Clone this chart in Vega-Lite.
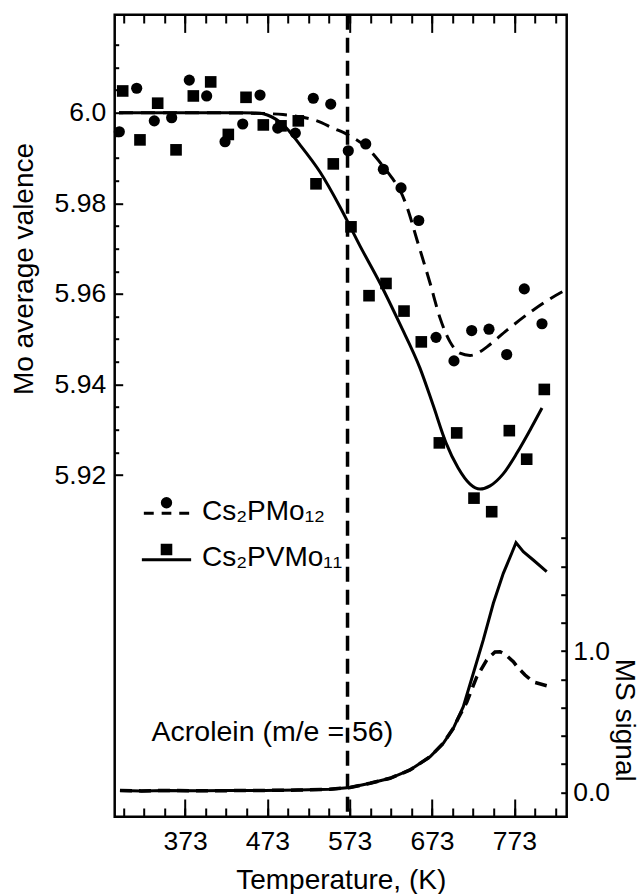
{
  "$schema": "https://vega.github.io/schema/vega-lite/v6.json",
  "autosize": "none",
  "width": 452,
  "height": 802,
  "padding": {"left": 114.7, "top": 14.7, "right": 74.3, "bottom": 77.3},
  "background": "white",
  "config": {
    "font": "Liberation Sans",
    "view": {"stroke": "black", "strokeWidth": 2.5},
    "axis": {"domain": false, "grid": false, "ticks": true, "tickColor": "black", "tickWidth": 2, "tickOpacity": 1, "labelColor": "black", "titleColor": "black", "labelFont": "Liberation Sans", "titleFont": "Liberation Sans", "labelFontSize": 26.5, "titleFontSize": 28, "titleFontWeight": "normal"}
  },
  "datasets": {
    "scatter": [
      {"T": 293.2, "v": 5.9958, "s": "Cs₂PMo₁₂"}, {"T": 314.3, "v": 6.0054, "s": "Cs₂PMo₁₂"}, {"T": 335.7, "v": 5.9982, "s": "Cs₂PMo₁₂"},
      {"T": 356.8, "v": 5.9989, "s": "Cs₂PMo₁₂"}, {"T": 378.2, "v": 6.0072, "s": "Cs₂PMo₁₂"}, {"T": 399.3, "v": 6.0037, "s": "Cs₂PMo₁₂"},
      {"T": 421.6, "v": 5.9936, "s": "Cs₂PMo₁₂"}, {"T": 443.1, "v": 5.9975, "s": "Cs₂PMo₁₂"}, {"T": 464.1, "v": 6.0039, "s": "Cs₂PMo₁₂"},
      {"T": 485.6, "v": 5.9966, "s": "Cs₂PMo₁₂"}, {"T": 507.0, "v": 5.9955, "s": "Cs₂PMo₁₂"}, {"T": 528.8, "v": 6.0032, "s": "Cs₂PMo₁₂"},
      {"T": 550.0, "v": 6.0019, "s": "Cs₂PMo₁₂"}, {"T": 571.3, "v": 5.9916, "s": "Cs₂PMo₁₂"}, {"T": 592.5, "v": 5.9931, "s": "Cs₂PMo₁₂"},
      {"T": 613.9, "v": 5.9875, "s": "Cs₂PMo₁₂"}, {"T": 635.4, "v": 5.9834, "s": "Cs₂PMo₁₂"}, {"T": 656.9, "v": 5.9762, "s": "Cs₂PMo₁₂"},
      {"T": 677.9, "v": 5.9504, "s": "Cs₂PMo₁₂"}, {"T": 699.7, "v": 5.9452, "s": "Cs₂PMo₁₂"}, {"T": 721.2, "v": 5.9519, "s": "Cs₂PMo₁₂"},
      {"T": 742.2, "v": 5.9522, "s": "Cs₂PMo₁₂"}, {"T": 763.7, "v": 5.9466, "s": "Cs₂PMo₁₂"}, {"T": 785.1, "v": 5.9611, "s": "Cs₂PMo₁₂"},
      {"T": 806.6, "v": 5.9534, "s": "Cs₂PMo₁₂"},
      {"T": 297.3, "v": 6.0048, "s": "Cs₂PVMo₁₁"}, {"T": 318.3, "v": 5.9940, "s": "Cs₂PVMo₁₁"}, {"T": 339.8, "v": 6.0021, "s": "Cs₂PVMo₁₁"},
      {"T": 362.1, "v": 5.9918, "s": "Cs₂PVMo₁₁"}, {"T": 383.1, "v": 6.0037, "s": "Cs₂PVMo₁₁"}, {"T": 404.2, "v": 6.0068, "s": "Cs₂PVMo₁₁"},
      {"T": 425.6, "v": 5.9952, "s": "Cs₂PVMo₁₁"}, {"T": 447.1, "v": 6.0034, "s": "Cs₂PVMo₁₁"}, {"T": 468.1, "v": 5.9973, "s": "Cs₂PVMo₁₁"},
      {"T": 489.6, "v": 5.9971, "s": "Cs₂PVMo₁₁"}, {"T": 510.6, "v": 5.9982, "s": "Cs₂PVMo₁₁"}, {"T": 532.1, "v": 5.9843, "s": "Cs₂PVMo₁₁"},
      {"T": 553.1, "v": 5.9887, "s": "Cs₂PVMo₁₁"}, {"T": 574.6, "v": 5.9748, "s": "Cs₂PVMo₁₁"}, {"T": 596.5, "v": 5.9596, "s": "Cs₂PVMo₁₁"},
      {"T": 617.1, "v": 5.9623, "s": "Cs₂PVMo₁₁"}, {"T": 639.0, "v": 5.9562, "s": "Cs₂PVMo₁₁"}, {"T": 660.0, "v": 5.9494, "s": "Cs₂PVMo₁₁"},
      {"T": 681.9, "v": 5.9271, "s": "Cs₂PVMo₁₁"}, {"T": 703.0, "v": 5.9293, "s": "Cs₂PVMo₁₁"}, {"T": 724.0, "v": 5.9149, "s": "Cs₂PVMo₁₁"},
      {"T": 745.5, "v": 5.9119, "s": "Cs₂PVMo₁₁"}, {"T": 766.9, "v": 5.9298, "s": "Cs₂PVMo₁₁"}, {"T": 788.0, "v": 5.9235, "s": "Cs₂PVMo₁₁"},
      {"T": 809.4, "v": 5.9389, "s": "Cs₂PVMo₁₁"}
    ],
    "fitPMo": [
      {"T": 292.8, "v": 6.0}, {"T": 391.2, "v": 6.0}, {"T": 470.2, "v": 5.9998}, {"T": 492.0, "v": 5.9996},
      {"T": 512.7, "v": 5.9991}, {"T": 533.3, "v": 5.9982}, {"T": 552.8, "v": 5.9966}, {"T": 571.0, "v": 5.9951},
      {"T": 592.8, "v": 5.9925}, {"T": 613.5, "v": 5.9882}, {"T": 624.4, "v": 5.9856}, {"T": 634.1, "v": 5.9829},
      {"T": 642.6, "v": 5.9792}, {"T": 654.8, "v": 5.9719}, {"T": 670.6, "v": 5.9624}, {"T": 682.7, "v": 5.9547},
      {"T": 694.9, "v": 5.9494}, {"T": 707.0, "v": 5.9469}, {"T": 719.2, "v": 5.9464}, {"T": 731.3, "v": 5.9472},
      {"T": 739.8, "v": 5.9483}, {"T": 764.1, "v": 5.9520}, {"T": 795.7, "v": 5.9564}, {"T": 828.5, "v": 5.9602},
      {"T": 835.8, "v": 5.9609}
    ],
    "fitPVMo": [
      {"T": 292.8, "v": 6.0}, {"T": 340, "v": 6.0}, {"T": 391, "v": 6.0}, {"T": 440, "v": 6.0}, {"T": 464, "v": 5.9999},
      {"T": 473, "v": 5.9995}, {"T": 492.4, "v": 5.9973}, {"T": 512.7, "v": 5.9929}, {"T": 537.0, "v": 5.9869},
      {"T": 561.3, "v": 5.9792}, {"T": 585.5, "v": 5.9706}, {"T": 609.8, "v": 5.9624}, {"T": 634.1, "v": 5.9533},
      {"T": 658.4, "v": 5.9436}, {"T": 674.2, "v": 5.9355}, {"T": 690.0, "v": 5.9271}, {"T": 704.6, "v": 5.9216},
      {"T": 719.2, "v": 5.9180}, {"T": 731.3, "v": 5.9169}, {"T": 743.5, "v": 5.9176}, {"T": 759.2, "v": 5.9202},
      {"T": 776.3, "v": 5.9249}, {"T": 792.0, "v": 5.9299}, {"T": 806.6, "v": 5.9348}
    ],
    "msPVMo": [
      {"T": 294.0, "ms": 0.012}, {"T": 320, "ms": 0.010}, {"T": 350, "ms": 0.013}, {"T": 391, "ms": 0.011},
      {"T": 430, "ms": 0.012}, {"T": 470, "ms": 0.013}, {"T": 510, "ms": 0.016}, {"T": 549.1, "ms": 0.021},
      {"T": 573.4, "ms": 0.034}, {"T": 597.7, "ms": 0.064}, {"T": 622.0, "ms": 0.099}, {"T": 646.3, "ms": 0.158},
      {"T": 670.6, "ms": 0.252}, {"T": 686.7, "ms": 0.347}, {"T": 698.9, "ms": 0.453}, {"T": 711.0, "ms": 0.606},
      {"T": 723.2, "ms": 0.843}, {"T": 735.3, "ms": 1.079}, {"T": 747.5, "ms": 1.339}, {"T": 759.6, "ms": 1.551},
      {"T": 769.8, "ms": 1.693}, {"T": 775.0, "ms": 1.768}, {"T": 783.9, "ms": 1.704}, {"T": 796.0, "ms": 1.645},
      {"T": 812.3, "ms": 1.562}
    ],
    "msPMo": [
      {"T": 294.0, "ms": 0.012}, {"T": 320, "ms": 0.010}, {"T": 350, "ms": 0.013}, {"T": 391, "ms": 0.011},
      {"T": 430, "ms": 0.012}, {"T": 470, "ms": 0.013}, {"T": 510, "ms": 0.016}, {"T": 549.1, "ms": 0.021},
      {"T": 573.4, "ms": 0.034}, {"T": 597.7, "ms": 0.064}, {"T": 622.0, "ms": 0.099}, {"T": 646.3, "ms": 0.158},
      {"T": 670.6, "ms": 0.252}, {"T": 686.7, "ms": 0.347}, {"T": 698.9, "ms": 0.453}, {"T": 705.0, "ms": 0.526},
      {"T": 715.2, "ms": 0.638}, {"T": 727.3, "ms": 0.817}, {"T": 739.4, "ms": 0.937}, {"T": 749.5, "ms": 0.994},
      {"T": 755.6, "ms": 0.996}, {"T": 761.7, "ms": 0.979}, {"T": 771.8, "ms": 0.925}, {"T": 777.8, "ms": 0.880},
      {"T": 786.0, "ms": 0.831}, {"T": 796.0, "ms": 0.781}, {"T": 812.3, "ms": 0.755}
    ],
    "notes": [{"T": 332.4, "ms": 0.43, "label": "Acrolein (m/e = 56)"}],
    "marker": [{"T": 570.4}]
  },
  "layer": [
    {
      "data": {"name": "msPVMo"},
      "mark": {"type": "line", "color": "black", "strokeWidth": 3},
      "encoding": {
        "x": {"field": "T", "type": "quantitative", "scale": {"domain": [287.6, 836.6], "nice": false, "zero": false},
          "axis": {"orient": "bottom", "zindex": 2, "values": [373, 473, 573, 673, 773], "tickSize": 17.7, "offset": -17.7, "labelPadding": 12, "title": "Temperature, (K)", "titleBaseline": "alphabetic", "titleY": 89.5,
            "encode": {"ticks": {"update": {"stroke": {"value": "black"}, "strokeWidth": {"value": 2}, "strokeOpacity": {"value": 1}, "opacity": {"value": 1}}}}}},
        "y": {"field": "ms", "type": "quantitative", "scale": {"domain": [-0.1728, 5.507], "nice": false, "zero": false},
          "axis": {"orient": "right", "zindex": 2, "values": [0, 0.2, 0.4, 0.6, 0.8, 1, 1.2, 1.4, 1.6, 1.8], "tickSize": 6, "offset": -6, "labelPadding": 6,
            "labelExpr": "datum.value == 0 ? '0.0' : (datum.value == 1 ? '1.0' : '')", "title": "MS signal", "titleAngle": 90, "titleBaseline": "alphabetic", "titleAlign": "center", "titleX": 55, "titleY": 705,
            "encode": {"ticks": {"update": {"stroke": {"value": "black"}, "strokeWidth": {"value": 2}, "strokeOpacity": {"value": 1}, "opacity": {"value": 1}}}}}}
      }
    },
    {
      "data": {"name": "msPMo"},
      "mark": {"type": "line", "color": "black", "strokeWidth": 3.5, "strokeDash": [12, 7]},
      "encoding": {
        "x": {"field": "T", "type": "quantitative", "scale": {"domain": [287.6, 836.6], "nice": false, "zero": false},
          "axis": {"orient": "bottom", "zindex": 2, "values": [298, 323, 348, 373, 398, 423, 448, 473, 498, 523, 548, 573, 598, 623, 648, 673, 698, 723, 748, 773, 798, 823], "tickSize": 8.7, "offset": -8.7, "labels": false, "title": null,
            "encode": {"ticks": {"update": {"stroke": {"value": "black"}, "strokeWidth": {"value": 2}, "strokeOpacity": {"value": 1}, "opacity": {"value": 1}}}}}},
        "y": {"field": "ms", "type": "quantitative", "scale": {"domain": [-0.1728, 5.507], "nice": false, "zero": false}, "axis": null}
      }
    },
    {
      "data": {"name": "fitPMo"},
      "mark": {"type": "line", "color": "black", "strokeWidth": 3, "strokeDash": [14, 8], "interpolate": "monotone"},
      "encoding": {
        "x": {"field": "T", "type": "quantitative", "scale": {"domain": [287.6, 836.6], "nice": false, "zero": false},
          "axis": {"orient": "top", "zindex": 2, "values": [373, 473, 573, 673, 773], "tickSize": 17.7, "offset": -17.7, "labels": false, "title": null,
            "encode": {"ticks": {"update": {"stroke": {"value": "black"}, "strokeWidth": {"value": 2}, "strokeOpacity": {"value": 1}, "opacity": {"value": 1}}}}}},
        "y": {"field": "v", "type": "quantitative", "scale": {"domain": [5.84456, 6.02164], "nice": false, "zero": false},
          "axis": {"orient": "left", "zindex": 2, "values": [5.92, 5.94, 5.96, 5.98, 6.0], "tickSize": 8, "offset": -8, "labelPadding": 9,
            "labelExpr": "datum.value == 6 ? '6.0' : format(datum.value, '.2f')", "title": "Mo average valence", "titleAngle": -90, "titleBaseline": "alphabetic", "titleAlign": "center", "titleX": -90.2, "titleY": 253.8,
            "encode": {"ticks": {"update": {"stroke": {"value": "black"}, "strokeWidth": {"value": 2}, "strokeOpacity": {"value": 1}, "opacity": {"value": 1}}}}}}
      }
    },
    {
      "data": {"name": "fitPVMo"},
      "mark": {"type": "line", "color": "black", "strokeWidth": 3, "interpolate": "monotone"},
      "encoding": {
        "x": {"field": "T", "type": "quantitative", "scale": {"domain": [287.6, 836.6], "nice": false, "zero": false},
          "axis": {"orient": "top", "zindex": 2, "values": [298, 323, 348, 373, 398, 423, 448, 473, 498, 523, 548, 573, 598, 623, 648, 673, 698, 723, 748, 773, 798, 823], "tickSize": 8.3, "offset": -8.3, "labels": false, "title": null,
            "encode": {"ticks": {"update": {"stroke": {"value": "black"}, "strokeWidth": {"value": 2}, "strokeOpacity": {"value": 1}, "opacity": {"value": 1}}}}}},
        "y": {"field": "v", "type": "quantitative", "scale": {"domain": [5.84456, 6.02164], "nice": false, "zero": false},
          "axis": {"orient": "left", "zindex": 2, "values": [5.925, 5.93, 5.935, 5.945, 5.95, 5.955, 5.965, 5.97, 5.975, 5.985, 5.99, 5.995, 6.005, 6.01, 6.015], "tickSize": 4, "offset": -4, "labels": false, "title": null,
            "encode": {"ticks": {"update": {"stroke": {"value": "black"}, "strokeWidth": {"value": 2}, "strokeOpacity": {"value": 1}, "opacity": {"value": 1}}}}}}
      }
    },
    {
      "data": {"name": "scatter"},
      "transform": [{"filter": "datum.s == 'Cs₂PMo₁₂'"}],
      "mark": {"type": "point", "shape": "circle", "filled": true, "color": "black", "opacity": 1, "size": 125},
      "encoding": {
        "x": {"field": "T", "type": "quantitative", "scale": {"domain": [287.6, 836.6], "nice": false, "zero": false}, "axis": null},
        "y": {"field": "v", "type": "quantitative", "scale": {"domain": [5.84456, 6.02164], "nice": false, "zero": false}, "axis": null}
      }
    },
    {
      "data": {"name": "scatter"},
      "transform": [{"filter": "datum.s == 'Cs₂PVMo₁₁'"}],
      "mark": {"type": "point", "shape": "square", "filled": true, "color": "black", "opacity": 1, "size": 135},
      "encoding": {
        "x": {"field": "T", "type": "quantitative", "scale": {"domain": [287.6, 836.6], "nice": false, "zero": false}, "axis": null},
        "y": {"field": "v", "type": "quantitative", "scale": {"domain": [5.84456, 6.02164], "nice": false, "zero": false}, "axis": null}
      }
    },
    {
      "data": {"name": "marker"},
      "mark": {"type": "rule", "color": "black", "strokeWidth": 3.5, "strokeDash": [15, 8]},
      "encoding": {
        "x": {"field": "T", "type": "quantitative", "scale": {"domain": [287.6, 836.6], "nice": false, "zero": false}, "axis": null}
      }
    },
    {
      "data": {"name": "notes"},
      "mark": {"type": "text", "align": "left", "baseline": "middle", "font": "Liberation Sans", "fontSize": 28.5, "color": "black"},
      "encoding": {
        "x": {"field": "T", "type": "quantitative", "scale": {"domain": [287.6, 836.6], "nice": false, "zero": false}, "axis": null},
        "y": {"field": "ms", "type": "quantitative", "scale": {"domain": [-0.1728, 5.507], "nice": false, "zero": false}, "axis": null},
        "text": {"field": "label"}
      }
    },
    {
      "data": {"name": "scatter"},
      "mark": {"type": "point", "filled": false, "color": "black", "strokeWidth": 3, "opacity": 0},
      "encoding": {
        "x": {"field": "T", "type": "quantitative", "scale": {"domain": [287.6, 836.6], "nice": false, "zero": false}, "axis": null},
        "y": {"field": "v", "type": "quantitative", "scale": {"domain": [5.84456, 6.02164], "nice": false, "zero": false}, "axis": null},
        "shape": {"field": "s", "type": "nominal",
          "scale": {"domain": ["Cs₂PMo₁₂", "Cs₂PVMo₁₁"], "range": [
            "M-1.03,0.08L-0.58,0.08M-0.22,0.08L0.22,0.08M0.58,0.08L1.03,0.08M0.064,-0.4A0.064,0.064,0,1,1,-0.064,-0.4A0.064,0.064,0,1,1,0.064,-0.4ZM0.19,-0.4A0.19,0.19,0,1,1,-0.19,-0.4A0.19,0.19,0,1,1,0.19,-0.4Z",
            "M-1.12,0.08L1.12,0.08M-0.068,-0.458L0.068,-0.458L0.068,-0.322L-0.068,-0.322ZM-0.195,-0.585L0.195,-0.585L0.195,-0.195L-0.195,-0.195Z"]},
          "legend": {"orient": "none", "legendX": 28.3, "legendY": 473.3, "title": null, "padding": 0, "symbolSize": 1936, "rowPadding": 8.5,
            "symbolStrokeColor": "black", "symbolStrokeWidth": 3, "symbolOpacity": 1,
            "labelFont": "Liberation Sans", "labelFontSize": 28, "labelColor": "black", "labelOffset": 12, "labelLimit": 400,
            "encode": {"symbols": {"update": {"opacity": {"value": 1}, "stroke": {"value": "black"}, "strokeWidth": {"value": 3}}}}}
        }
      }
    }
  ],
  "resolve": {"scale": {"x": "independent", "y": "independent"}, "axis": {"x": "independent", "y": "independent"}}
}
